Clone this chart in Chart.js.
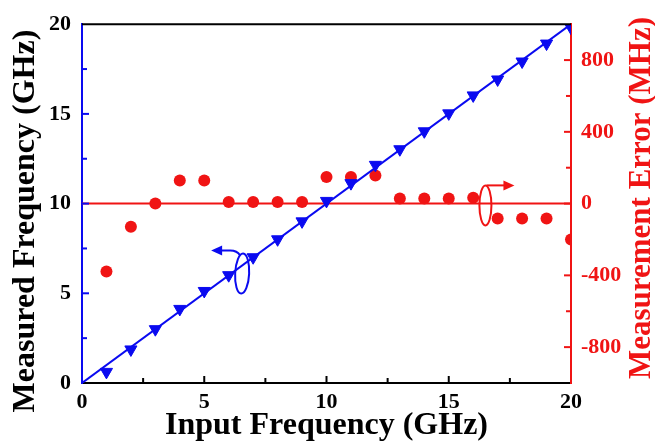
<!DOCTYPE html>
<html>
<head>
<meta charset="utf-8">
<script src="https://cdn.jsdelivr.net/npm/chart.js@4"></script>
<style>
    html, body { margin: 0; padding: 0; background: #fff; }
    #wrap { width: 655px; height: 445px; }
</style>
</head>
<body>
<div id="wrap"><canvas id="freqChart" width="655" height="445"></canvas></div>
<script>
// Data
const inputFreq = [1, 2, 3, 4, 5, 6, 7, 8, 9, 10, 11, 12, 13, 14, 15, 16, 17, 18, 19, 20];
const measuredFreq = [0.62, 1.87, 3.0, 4.13, 5.13, 6.01, 7.01, 8.01, 9.01, 10.15, 11.14, 12.16, 13.03, 14.03, 15.03, 16.03, 16.92, 17.92, 18.92, 19.8];
const errorMHz = [-378, -129, 0, 129, 129, 9, 9, 9, 9, 148, 148, 157, 28, 28, 28, 33, -83, -83, -83, -200];
const idealX = [0, 20];
const idealY = [0, 20];
const zeroLineX = [0, 20];
const zeroLineY = [0, 0];

const BLUE = '#0a0af0';
const RED = '#f01414';
const tickFont = { family: 'Liberation Serif', size: 22, weight: 'bold' };
const titleFont = { family: 'Liberation Serif', size: 32, weight: 'bold' };

function toPoints(xs, ys) {
    return xs.map((x, i) => ({ x: x, y: ys[i] }));
}

function drawUpText(ctx, text, x, y, font, color) {
    ctx.save();
    ctx.fillStyle = color;
    ctx.font = font;
    ctx.textAlign = 'center';
    ctx.textBaseline = 'middle';
    ctx.translate(x, y);
    ctx.rotate(-Math.PI / 2);
    ctx.fillText(text, 0, 0);
    ctx.restore();
}

// inside tick marks, top frame line, y titles, and the two axis markers
const decorPlugin = {
    id: 'decor',
    afterDraw(chart) {
        const ctx = chart.ctx;
        const area = chart.chartArea;
        const sx = chart.scales.x, sy = chart.scales.y, sy2 = chart.scales.y2;
        ctx.save();
        ctx.lineWidth = 2;

        // top frame
        ctx.strokeStyle = '#000';
        ctx.beginPath();
        ctx.moveTo(area.left, area.top);
        ctx.lineTo(area.right, area.top);
        ctx.stroke();

        // x ticks (inside)
        sx.ticks.forEach(t => {
            if (t.value <= 0 || t.value >= 20) return;
            const px = sx.getPixelForValue(t.value);
            const len = t.value % 5 === 0 ? 7 : 5;
            ctx.beginPath();
            ctx.moveTo(px, area.bottom);
            ctx.lineTo(px, area.bottom - len);
            ctx.stroke();
        });
        // left ticks
        ctx.strokeStyle = BLUE;
        sy.ticks.forEach(t => {
            if (t.value <= 0 || t.value >= 20) return;
            const py = sy.getPixelForValue(t.value);
            const len = t.value % 5 === 0 ? 7 : 5;
            ctx.beginPath();
            ctx.moveTo(area.left, py);
            ctx.lineTo(area.left + len, py);
            ctx.stroke();
        });
        // right ticks
        ctx.strokeStyle = RED;
        sy2.ticks.forEach(t => {
            if (t.value <= -1000 || t.value >= 1000) return;
            const py = sy2.getPixelForValue(t.value);
            const len = t.value % 400 === 0 ? 7 : 5;
            ctx.beginPath();
            ctx.moveTo(area.right, py);
            ctx.lineTo(area.right - len, py);
            ctx.stroke();
        });

        // axis titles, both reading bottom to top
        drawUpText(ctx, 'Measured Frequency (GHz)', 26, 221, 'bold 32px "Liberation Serif"', '#000');
        drawUpText(ctx, 'Measurement Error (MHz)', 642, 198, 'bold 31px "Liberation Serif"', RED);

        // blue marker: ellipse with arrow pointing left
        ctx.strokeStyle = BLUE;
        ctx.fillStyle = BLUE;
        ctx.lineWidth = 2;
        let cx = sx.getPixelForValue(6.55), cy = sy.getPixelForValue(6.1);
        ctx.beginPath();
        ctx.ellipse(cx, cy, 7, 20, 0.05, 0, Math.PI * 2);
        ctx.stroke();
        ctx.beginPath();
        ctx.moveTo(cx - 2, cy - 18);
        ctx.quadraticCurveTo(cx - 5, cy - 23, cx - 12, cy - 23);
        ctx.lineTo(cx - 22, cy - 23);
        ctx.stroke();
        ctx.beginPath();
        ctx.moveTo(cx - 31, cy - 23);
        ctx.lineTo(cx - 20, cy - 28);
        ctx.lineTo(cx - 20, cy - 18);
        ctx.closePath();
        ctx.fill();

        // red marker: ellipse with arrow pointing right
        ctx.strokeStyle = RED;
        ctx.fillStyle = RED;
        cx = sx.getPixelForValue(16.5);
        cy = sy2.getPixelForValue(-10);
        ctx.beginPath();
        ctx.ellipse(cx, cy, 6, 20, 0, 0, Math.PI * 2);
        ctx.stroke();
        ctx.beginPath();
        ctx.moveTo(cx + 1, cy - 20);
        ctx.lineTo(cx + 20, cy - 20);
        ctx.stroke();
        ctx.beginPath();
        ctx.moveTo(cx + 29, cy - 20);
        ctx.lineTo(cx + 18, cy - 25);
        ctx.lineTo(cx + 18, cy - 15);
        ctx.closePath();
        ctx.fill();

        ctx.restore();
    }
};

const ctx = document.getElementById('freqChart').getContext('2d');
new Chart(ctx, {
    type: 'scatter',
    data: {
        datasets: [
            {
                label: 'Ideal',
                type: 'line',
                data: toPoints(idealX, idealY),
                borderColor: BLUE,
                borderWidth: 2,
                pointRadius: 0,
                yAxisID: 'y'
            },
            {
                label: 'Measured Frequency',
                data: toPoints(inputFreq, measuredFreq),
                pointStyle: 'triangle',
                rotation: 180,
                pointRadius: 7,
                backgroundColor: BLUE,
                borderColor: BLUE,
                borderWidth: 1,
                yAxisID: 'y'
            },
            {
                label: 'Zero',
                type: 'line',
                data: toPoints(zeroLineX, zeroLineY),
                borderColor: RED,
                borderWidth: 2,
                pointRadius: 0,
                yAxisID: 'y2'
            },
            {
                label: 'Measurement Error',
                data: toPoints(inputFreq, errorMHz),
                pointStyle: 'circle',
                pointRadius: 6,
                backgroundColor: RED,
                borderColor: RED,
                borderWidth: 0,
                yAxisID: 'y2'
            }
        ]
    },
    options: {
        responsive: false,
        animation: false,
        layout: { padding: { top: 20, left: 0, right: 0, bottom: 0 } },
        plugins: {
            legend: { display: false },
            tooltip: { enabled: false }
        },
        scales: {
            x: {
                type: 'linear',
                position: 'bottom',
                min: 0,
                max: 20,
                grid: { display: false, drawTicks: false },
                border: { color: '#000', width: 2 },
                ticks: {
                    stepSize: 2.5,
                    autoSkip: false,
                    maxRotation: 0,
                    padding: 6,
                    color: '#000',
                    font: tickFont,
                    callback: function(value) {
                        return value % 5 === 0 ? value : '';
                    }
                },
                title: {
                    display: true,
                    text: 'Input Frequency (GHz)',
                    color: '#000',
                    font: titleFont,
                    padding: { top: 0, bottom: 0 }
                },
                afterFit: function(scale) { scale.height = 62; }
            },
            y: {
                type: 'linear',
                position: 'left',
                min: 0,
                max: 20,
                grid: { display: false, drawTicks: false },
                border: { color: BLUE, width: 2 },
                ticks: {
                    stepSize: 2.5,
                    autoSkip: false,
                    padding: 11,
                    color: '#000',
                    font: tickFont,
                    callback: function(value) {
                        return value % 5 === 0 ? value : '';
                    }
                },
                afterFit: function(scale) { scale.width = 82; }
            },
            y2: {
                type: 'linear',
                position: 'right',
                min: -1000,
                max: 1000,
                grid: { display: false, drawTicks: false },
                border: { color: RED, width: 2 },
                ticks: {
                    stepSize: 200,
                    autoSkip: false,
                    padding: 10,
                    color: RED,
                    font: tickFont,
                    callback: function(value) {
                        return value % 400 === 0 ? value : '';
                    }
                },
                afterFit: function(scale) { scale.width = 84; }
            }
        }
    },
    plugins: [decorPlugin]
});
</script>
</body>
</html>
